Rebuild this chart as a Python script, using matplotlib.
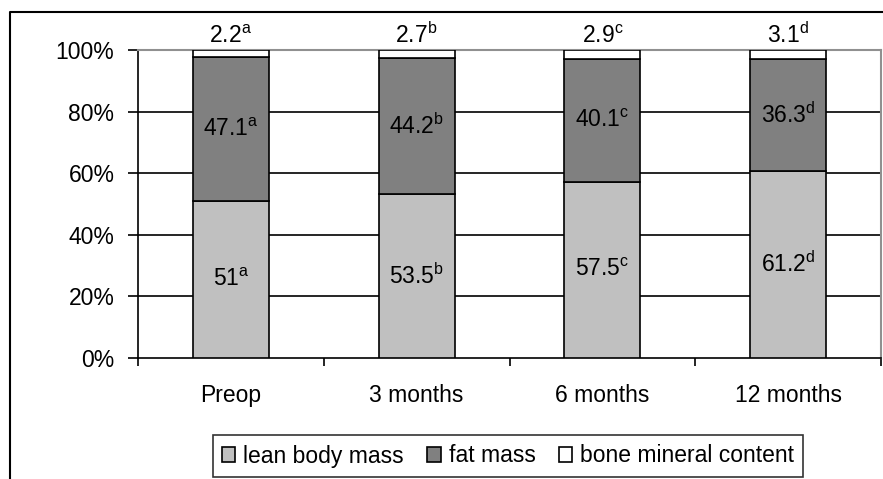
import matplotlib
matplotlib.use('Agg')
import matplotlib.pyplot as plt
import numpy as np
from matplotlib.lines import Line2D

plt.rcParams['font.family'] = ['Liberation Sans', 'DejaVu Sans']
plt.rcParams['font.size'] = 16.5

# data
periods = ['Preop', '3 months', '6 months', '12 months']
lean = [51, 53.5, 57.5, 61.2]
fat = [47.1, 44.2, 40.1, 36.3]
bone = [2.2, 2.7, 2.9, 3.1]
letters = ['a', 'b', 'c', 'd']
series_names = ['lean body mass', 'fat mass', 'bone mineral content']
colors = ['#c0c0c0', '#808080', '#ffffff']

W, H = 883, 479
fig = plt.figure(figsize=(W / 100, H / 100), dpi=100)
ax = fig.add_axes([138 / W, (H - 358) / H, 743 / W, 308 / H])

x = np.arange(len(periods))
tot = np.array(lean) + np.array(fat) + np.array(bone)
pl = np.array(lean) / tot * 100
pf = np.array(fat) / tot * 100
pb = np.array(bone) / tot * 100

bw = 0.41
b1 = ax.bar(x, pl, bw, color=colors[0], edgecolor='black', lw=1.2, zorder=3, label=series_names[0])
b2 = ax.bar(x, pf, bw, bottom=pl, color=colors[1], edgecolor='black', lw=1.2, zorder=3, label=series_names[1])
b3 = ax.bar(x, pb, bw, bottom=pl + pf, color=colors[2], edgecolor='black', lw=1.2, zorder=3, label=series_names[2])

def lab(v, l):
    return '%g$\\mathregular{^{%s}}$' % (v, l)

for i in range(len(periods)):
    ax.text(x[i], pl[i] / 2, lab(lean[i], letters[i]), ha='center', va='center', zorder=4)
    ax.text(x[i], pl[i] + pf[i] / 2, lab(fat[i], letters[i]), ha='center', va='center', zorder=4)
    ax.annotate(lab(bone[i], letters[i]), (x[i], 100), xytext=(0, 5), textcoords='offset points',
                ha='center', va='baseline', annotation_clip=False)

ax.set_xlim(-0.5, 3.5)
ax.set_ylim(0, 100)
ax.set_yticks([0, 20, 40, 60, 80, 100])
ax.set_yticklabels(['%d%%' % v for v in [0, 20, 40, 60, 80, 100]])
ax.set_xticks(x)
ax.set_xticklabels(periods)
ax.set_xticks(np.arange(-0.5, 4, 1), minor=True)
ax.tick_params(axis='x', which='major', length=0, pad=19)
ax.tick_params(axis='x', which='minor', length=6, width=1.2, direction='out')
ax.tick_params(axis='y', length=7, width=1.2, pad=10)
for v in [20, 40, 60, 80]:
    ax.axhline(v, color='black', lw=1.2, zorder=1)
for s in ['top', 'right']:
    ax.spines[s].set_color('#909090')
    ax.spines[s].set_linewidth(1.5)
for s in ['left', 'bottom']:
    ax.spines[s].set_linewidth(1.2)

leg = fig.legend(handles=[b1, b2, b3], loc='center', bbox_to_anchor=(508 / W, 23 / H), ncol=3,
                 frameon=True, fancybox=False, handlelength=0.6, handleheight=0.6,
                 handletextpad=0.35, columnspacing=1.0, borderpad=0.4, borderaxespad=0)
leg.get_frame().set_edgecolor('black')
leg.get_frame().set_linewidth(1.2)

# outer chart border
fig.add_artist(Line2D([10 / W, 10 / W, 1], [0, 1 - 12 / H, 1 - 12 / H], transform=fig.transFigure,
                      color='black', lw=1.5))

fig.savefig('out.png', dpi=100)
